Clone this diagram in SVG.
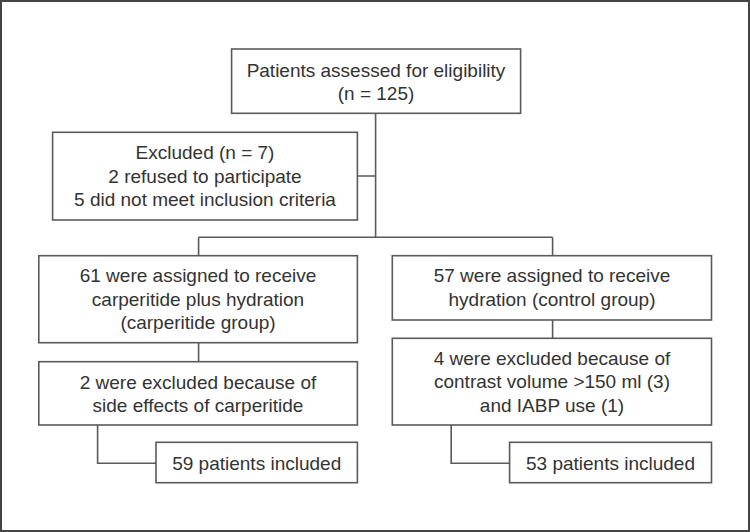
<svg xmlns="http://www.w3.org/2000/svg" width="750" height="532" viewBox="0 0 750 532">
<style>
.box{fill:#fff;stroke:#5a5a5a;stroke-width:1.6}
.ln{fill:none;stroke:#5a5a5a;stroke-width:1.6}
text{font-family:"Liberation Sans",Arial,sans-serif;font-size:19px;fill:#333;text-anchor:middle}
</style>
<rect x="0" y="0" width="750" height="532" fill="#fff"/>
<rect x="1" y="1" width="748" height="530" fill="none" stroke="#444" stroke-width="2"/>
<g id="connectors">
<path class="ln" d="M375.6 113.3 V237.3 M357.4 176 H375.6 M198.6 237.3 H552.6 M198.6 237.3 V255.7 M552.6 237.3 V255.7 M198.6 342.7 V361.7 M552.6 320 V338.3 M97.6 425 V463.3 H156 M451.2 425 V463.3 H509.6"/>
</g>
<g id="n1"><rect class="box" x="231.6" y="49" width="289" height="64.3"/>
<text x="376" y="77">Patients assessed for eligibility</text><text x="376" y="100">(n = 125)</text></g>
<g id="n2"><rect class="box" x="52.6" y="132.3" width="304.8" height="87.7"/>
<text x="205" y="159">Excluded (n = 7)</text><text x="205" y="182.5">2 refused to participate</text><text x="205" y="206">5 did not meet inclusion criteria</text></g>
<g id="n3"><rect class="box" x="38.8" y="255.7" width="318.6" height="87"/>
<text x="198" y="282">61 were assigned to receive</text><text x="198" y="305.5">carperitide plus hydration</text><text x="198" y="329">(carperitide group)</text></g>
<g id="n4"><rect class="box" x="392.3" y="255.7" width="319.2" height="64.3"/>
<text x="552" y="282">57 were assigned to receive</text><text x="552" y="305.5">hydration (control group)</text></g>
<g id="n5"><rect class="box" x="38.8" y="361.7" width="318.6" height="63.3"/>
<text x="198" y="388.5">2 were excluded because of</text><text x="198" y="412">side effects of carperitide</text></g>
<g id="n6"><rect class="box" x="392.3" y="338.3" width="319.2" height="86.7"/>
<text x="552" y="364.5">4 were excluded because of</text><text x="552" y="388">contrast volume &gt;150 ml (3)</text><text x="552" y="411.5">and IABP use (1)</text></g>
<g id="n7"><rect class="box" x="156" y="442.3" width="201.4" height="40.4"/>
<text x="256.7" y="470">59 patients included</text></g>
<g id="n8"><rect class="box" x="509.6" y="442.3" width="201.9" height="40.4"/>
<text x="610.5" y="470">53 patients included</text></g>
</svg>
